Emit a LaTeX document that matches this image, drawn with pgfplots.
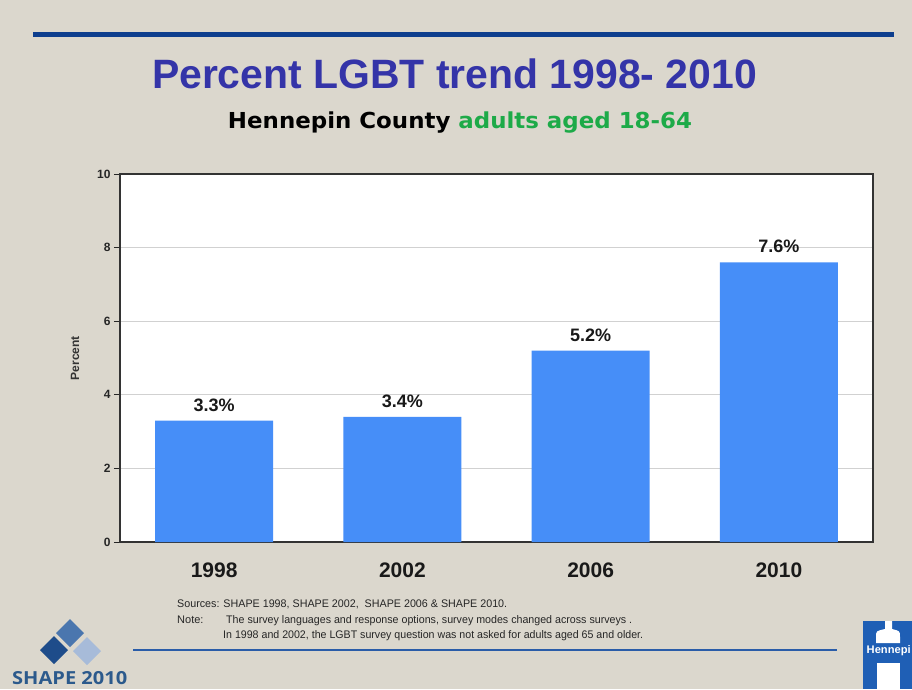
\documentclass[border=0pt]{standalone}
\usepackage{pgfplots}
\pgfplotsset{compat=1.18}
\usepackage{graphicx}
\usepackage{fontspec}
\setmainfont{Liberation Sans}
\newfontfamily\dejavu{DejaVu Sans}
\newfontfamily\opensans{Open Sans}
\definecolor{bg}{HTML}{DBD7CD}
\definecolor{barblue}{HTML}{468EF8}
\definecolor{titleblue}{HTML}{3434A8}
\definecolor{subgreen}{HTML}{1DAA48}
\definecolor{lineblue}{HTML}{0D3E8E}
\definecolor{lineblue2}{HTML}{2A5CA8}
\definecolor{dmd1}{HTML}{1E4C8A}
\definecolor{dmd2}{HTML}{4A76AE}
\definecolor{dmd3}{HTML}{A7BBD9}
\definecolor{henblue}{HTML}{1F5FB5}
\definecolor{shapetxt}{HTML}{2C5A8C}
\begin{document}
\begin{tikzpicture}
\clip (0,0) rectangle (912pt,-689pt);
\fill[bg] (0,0) rectangle (912pt,-689pt);
% top rule
\draw[lineblue, line width=4.5pt] (33pt,-34.5pt) -- (894pt,-34.5pt);
% title
\node[inner sep=0pt, anchor=base, text=titleblue] at (454.5pt,-88pt)
  {\resizebox{605pt}{\height}{\fontsize{41}{48}\selectfont\bfseries Percent LGBT trend 1998- 2010}};
\node[inner sep=0pt, anchor=base] at (460pt,-128pt)
  {\resizebox{464pt}{\height}{\dejavu\fontsize{22}{26}\selectfont\bfseries Hennepin County \textcolor{subgreen}{adults aged 18-64}}};
\begin{axis}[
  at={(120pt,-542pt)}, anchor=south west,
  scale only axis, width=753pt, height=368pt,
  xmin=-0.5, xmax=3.5, ymin=0, ymax=10,
  ytick={0,2,4,6,8,10},
  xtick={0,1,2,3}, xticklabels={1998,2002,2006,2010},
  /pgf/number format/assume math mode=true,
  major x tick style={draw=none},
  extra x ticks={0.5,1.5,2.5}, extra x tick labels={},
  extra x tick style={tick align=inside, major tick length=5pt, xtick style={draw=gray, line width=0.8pt}, grid=none},
  xtick pos=bottom, ytick pos=left,
  ytick align=outside,
  ytick style={draw=black!85, line width=0.8pt},
  major tick length=6pt,
  ymajorgrids, grid style={draw=black!18, line width=0.9pt},
  axis background/.style={fill=white},
  axis line style={draw=black!80, line width=1.6pt},
  yticklabel style={font=\fontsize{12}{14}\selectfont\bfseries, text=black!85},
  xticklabel style={font=\fontsize{21}{25}\selectfont\bfseries, text=black!90, yshift=-17pt},
  ylabel={Percent},
  every axis y label/.style={at={(rel axis cs:0,0.5)}, xshift=-45pt, rotate=90, anchor=center, font=\fontsize{12}{14}\selectfont\bfseries, text=black!80},
  clip=false,
]
\addplot[ybar, bar width=0.627, fill=barblue, draw=none,
  nodes near coords={\pgfmathprintnumber[fixed,precision=1,fixed zerofill]{\pgfplotspointmeta}\%},
  every node near coord/.append style={font=\fontsize{18}{21}\selectfont\bfseries, text=black!90, inner sep=0pt, anchor=south, yshift=9pt}]
  coordinates {(0,3.3) (1,3.4) (2,5.2) (3,7.6)};
\end{axis}
% sources / notes
\node[inner sep=0pt, anchor=base west, text=black!85] at (177pt,-607pt)
  {\resizebox{330pt}{\height}{\fontsize{11}{13}\selectfont Sources: SHAPE 1998, SHAPE 2002,\ \ SHAPE 2006 \& SHAPE 2010.}};
\node[inner sep=0pt, anchor=base west, text=black!85] at (177pt,-623pt)
  {\fontsize{11}{13}\selectfont Note:};
\node[inner sep=0pt, anchor=base west, text=black!85] at (226pt,-623pt)
  {\resizebox{406pt}{\height}{\fontsize{11}{13}\selectfont The survey languages and response options, survey modes changed across surveys .}};
\node[inner sep=0pt, anchor=base west, text=black!85] at (223pt,-638pt)
  {\resizebox{420pt}{\height}{\fontsize{11}{13}\selectfont In 1998 and 2002, the LGBT survey question was not asked for adults aged 65 and older.}};
% bottom rule
\draw[lineblue2, line width=2.5pt] (133pt,-650pt) -- (837pt,-650pt);
% SHAPE logo
\fill[dmd2] (70pt,-619pt) -- (84pt,-633pt) -- (70pt,-647pt) -- (56pt,-633pt) -- cycle;
\fill[dmd1] (54pt,-636pt) -- (68pt,-650pt) -- (54pt,-664pt) -- (40pt,-650pt) -- cycle;
\fill[dmd3] (87pt,-637pt) -- (101pt,-651pt) -- (87pt,-665pt) -- (73pt,-651pt) -- cycle;
\node[inner sep=0pt, anchor=base west, text=shapetxt] at (12pt,-684pt)
  {\resizebox{115pt}{\height}{\opensans\fontsize{18}{21}\selectfont\bfseries SHAPE 2010}};
% Hennepin logo
\fill[henblue] (863pt,-621pt) rectangle (912pt,-689pt);
\fill[white] (885pt,-621pt) -- (885pt,-629pt) .. controls (876pt,-631pt) .. (876pt,-637pt) -- (876pt,-643pt) -- (900pt,-643pt) -- (900pt,-637pt) .. controls (900pt,-631pt) .. (892pt,-629pt) -- (892pt,-621pt) -- cycle;
\fill[white] (877pt,-663pt) rectangle (900pt,-689pt);
\node[inner sep=0pt, anchor=base west, text=white] at (866.5pt,-653pt)
  {\resizebox{44pt}{\height}{\fontsize{11}{13}\selectfont\bfseries Hennepi}};
\end{tikzpicture}
\end{document}
